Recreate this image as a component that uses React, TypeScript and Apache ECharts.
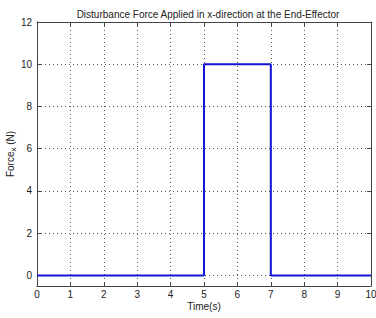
import React, { useEffect, useRef } from "react";
import * as echarts from "echarts";

const timeValues = [0, 5, 5, 5, 7, 7, 7, 10];
const forceValues = [0, 0, 5, 10, 10, 5, 0, 0];
const xTicks = [0, 1, 2, 3, 4, 5, 6, 7, 8, 9, 10];
const yTicks = [0, 2, 4, 6, 8, 10, 12];

const FONT = "Liberation Sans, Arial, sans-serif";

export default function App() {
  const ref = useRef<HTMLDivElement>(null);
  useEffect(() => {
    const chart = echarts.init(ref.current!, null, { renderer: "svg" });
    const axisLine = { show: true, onZero: false, lineStyle: { color: "#444", width: 1 } };
    const splitLine = { show: true, lineStyle: { color: "#555", type: [1, 3] as any, width: 1 } };
    chart.setOption({
      animation: false,
      backgroundColor: "#fff",
      title: {
        text: "Disturbance Force Applied in x-direction at the End-Effector",
        left: 203,
        textAlign: "center",
        top: 4,
        textStyle: { fontFamily: FONT, fontSize: 10, fontWeight: "normal", color: "#222" },
      },
      grid: { left: 37, right: 5, top: 22, bottom: 32, containLabel: false, outerBoundsMode: "none" },
      xAxis: [
        {
          type: "value",
          min: 0,
          max: 10,
          interval: 1,
          position: "bottom",
          axisLine,
          axisTick: { show: true, inside: true, length: 4, lineStyle: { color: "#444" } },
          axisLabel: { color: "#222", fontFamily: FONT, fontSize: 10, margin: 3,
            formatter: (v: number) => (xTicks.includes(v) ? String(v) : "") },
          splitLine,
          name: "Time(s)",
          nameLocation: "middle",
          nameGap: 15,
          nameMoveOverlap: false,
          nameTextStyle: { color: "#222", fontFamily: FONT, fontSize: 10 },
        },
        {
          type: "value",
          min: 0,
          max: 10,
          interval: 1,
          position: "top",
          axisLine,
          axisTick: { show: true, inside: true, length: 4, lineStyle: { color: "#444" } },
          axisLabel: { show: false },
          splitLine: { show: false },
        },
      ],
      yAxis: [
        {
          type: "value",
          min: -0.5,
          max: 12,
          position: "left",
          axisLine,
          axisTick: { show: true, inside: true, length: 4, lineStyle: { color: "#444" }, customValues: yTicks },
          axisLabel: { color: "#222", fontFamily: FONT, fontSize: 10, margin: 5, customValues: yTicks },
          splitLine: { ...splitLine },
          name: "Force{sub|x} (N)",
          nameLocation: "middle",
          nameGap: 20,
          nameRotate: 90,
          nameMoveOverlap: false,
          nameTextStyle: {
            color: "#222", fontFamily: FONT, fontSize: 10,
            rich: { sub: { fontSize: 8, fontFamily: FONT, color: "#222", verticalAlign: "bottom", padding: [5, 0, 0, 0] } },
          },
        },
        {
          type: "value",
          min: -0.5,
          max: 12,
          position: "right",
          axisLine,
          axisTick: { show: true, inside: true, length: 4, lineStyle: { color: "#444" }, customValues: yTicks },
          axisLabel: { show: false },
          splitLine: { show: false },
        },
      ],
      series: [
        {
          type: "line",
          data: timeValues.map((t, i) => [t, forceValues[i]]),
          showSymbol: false,
          lineStyle: { color: "#1515d5", width: 2 },
          xAxisIndex: 0,
          yAxisIndex: 0,
        },
      ],
    });
    return () => chart.dispose();
  }, []);
  return <div ref={ref} style={{ position: "fixed", left: 0, top: 0, width: 376, height: 318 }} />;
}
